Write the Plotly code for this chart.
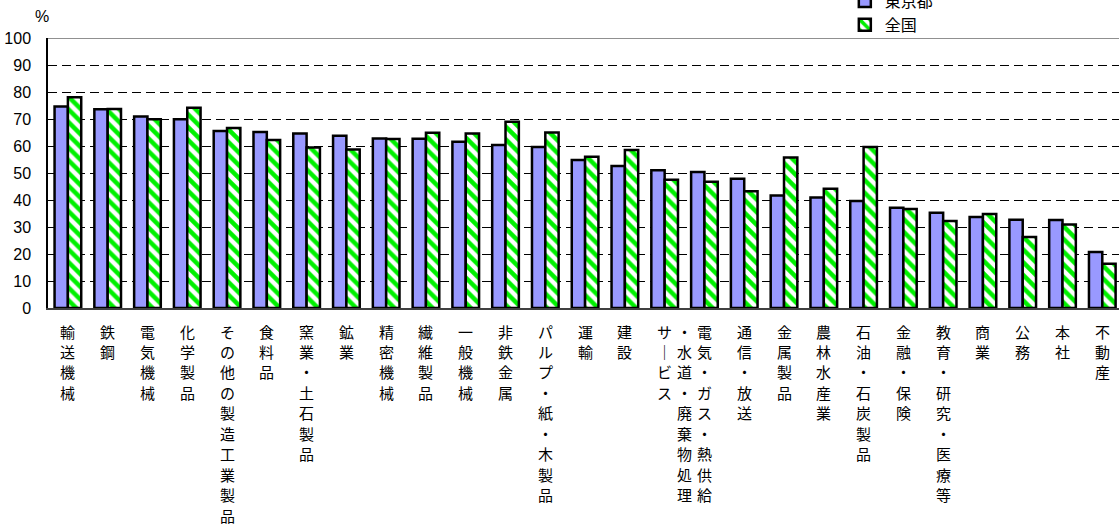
import math
import plotly.graph_objects as go

# 業種別の比率（%）：東京都と全国
categories = [
    "輸送機械", "鉄鋼", "電気機械", "化学製品", "その他の製造工業製品", "食料品",
    "窯業・土石製品", "鉱業", "精密機械", "繊維製品", "一般機械", "非鉄金属",
    "パルプ・紙・木製品", "運輸", "建設", "サービス",
    "電気・ガス・熱供給・水道・廃棄物処理", "通信・放送", "金属製品", "農林水産業",
    "石油・石炭製品", "金融・保険", "教育・研究・医療等", "商業", "公務", "本社", "不動産",
]
tokyo = [74.6, 73.6, 70.9, 69.9, 65.6, 65.2, 64.6, 63.8, 62.8, 62.7, 61.6, 60.4, 59.6,
         54.8, 52.6, 51.0, 50.4, 47.9, 41.7, 40.9, 39.6, 37.1, 35.3, 33.7, 32.7, 32.6, 20.7]
national = [78.1, 73.7, 69.9, 74.2, 66.7, 62.2, 59.4, 58.7, 62.6, 64.9, 64.6, 69.0, 65.0,
            56.0, 58.5, 47.5, 46.8, 43.2, 55.7, 44.2, 59.6, 36.7, 32.2, 34.8, 26.3, 30.9, 16.4]
series_names = ["東京都", "全国"]
y_ticks = list(range(0, 101, 10))

# 縦書きラベルの設定
VERT = {"ー": "｜"}          # 縦書き時の長音記号
MAX_ROWS = 10                 # 1列あたりの最大文字数
FIRST_ROW = 23                # 軸線から1文字目中心までの距離(px)
ROW_STEP = 20.45              # 行送り(px)
COL_STEP = 20                 # 列送り(px)、2列目以降は左へ

plot_left, plot_top, plot_bottom, W, H = 48, 38, 308, 1119, 526
plot_w = W - plot_left
plot_h = plot_bottom - plot_top


def vertical_columns(name, max_rows=MAX_ROWS):
    chars = [VERT.get(c, c) for c in name]
    ncol = math.ceil(len(chars) / max_rows)
    rows = math.ceil(len(chars) / ncol)
    return [chars[i * rows:(i + 1) * rows] for i in range(ncol)]


label_annotations = []
for cat in categories:
    for c, col in enumerate(vertical_columns(cat)):
        for r, ch in enumerate(col):
            label_annotations.append(dict(
                text=ch, xref="x", yref="paper", x=cat, y=0,
                xanchor="center", yanchor="middle",
                xshift=-c * COL_STEP, yshift=-(FIRST_ROW + r * ROW_STEP),
                showarrow=False,
                font=dict(family="Noto Sans CJK JP", size=15, color="black"),
            ))

fig = go.Figure()
fig.add_trace(go.Bar(
    x=categories, y=tokyo, name=series_names[0],
    marker=dict(color="#9999FF", line=dict(color="black", width=2.5)),
))
fig.add_trace(go.Bar(
    x=categories, y=national, name=series_names[1],
    marker=dict(
        color="white",
        line=dict(color="black", width=2.5),
        pattern=dict(shape="\\", fgcolor="#00F000", bgcolor="white",
                     size=9, solidity=0.5, fillmode="replace"),
    ),
))

fig.update_layout(
    width=W, height=H,
    margin=dict(l=plot_left, r=0, t=plot_top, b=H - plot_bottom, autoexpand=False),
    paper_bgcolor="white", plot_bgcolor="white",
    barmode="group", bargap=0.33, bargroupgap=0,
    font=dict(family="Liberation Sans, Arial", size=16, color="black"),
    showlegend=True,
    legend=dict(
        x=0.744, xanchor="left", y=1 + (plot_top + 16) / plot_h, yanchor="top",
        bgcolor="rgba(0,0,0,0)", borderwidth=0,
        font=dict(family="Noto Sans CJK JP", size=16),
        tracegroupgap=0,
    ),
    xaxis=dict(
        type="category", showticklabels=False,
        showline=True, linecolor="#404040", linewidth=1.5,
        showgrid=False, ticks="",
        range=[-0.5, 26.42],
    ),
    yaxis=dict(
        range=[0, 100], tickmode="array", tickvals=y_ticks,
        tickfont=dict(family="Liberation Sans, Arial", size=16, color="black"),
        showline=True, linecolor="black", linewidth=1.5,
        showgrid=True, gridcolor="black", gridwidth=1, griddash="9px,5px",
        zeroline=False, ticks="", ticklabelstandoff=12,
    ),
    annotations=[dict(
        text="%", xref="paper", yref="paper",
        x=-6 / plot_w, y=1 + 22 / plot_h, xanchor="center", yanchor="middle",
        showarrow=False, font=dict(family="Liberation Sans, Arial", size=16),
    )] + label_annotations,
    shapes=[
        dict(type="line", xref="paper", yref="y", x0=0, x1=1, y0=100, y1=100,
             line=dict(color="#909090", width=2), layer="below"),
    ],
)

fig.write_html("out.html")
